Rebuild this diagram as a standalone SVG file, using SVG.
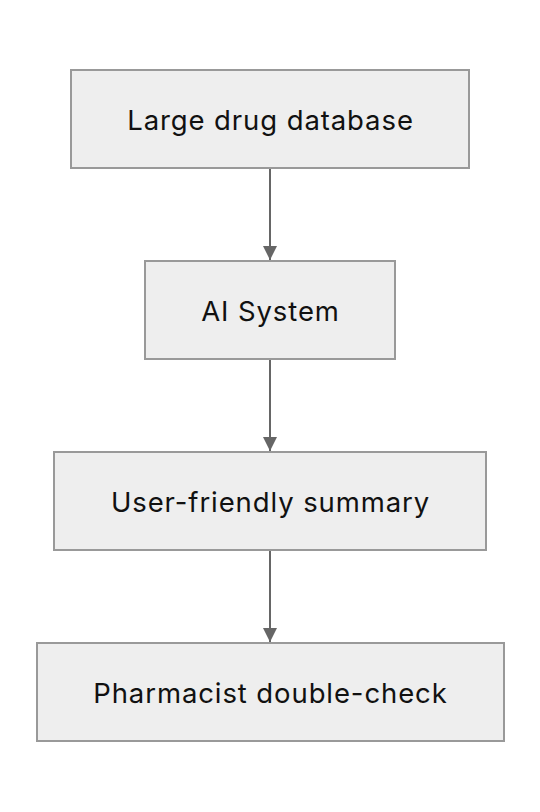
<svg xmlns="http://www.w3.org/2000/svg" width="540" height="812" viewBox="0 0 540 812">
<defs>
<style>
.box{fill:#eeeeee;stroke:#999999;stroke-width:2}
.lbl{font-family:Inter,"Liberation Sans",sans-serif;font-size:27.5px;letter-spacing:0.9px;fill:#111111;text-anchor:middle}
.edge{stroke:#666666;stroke-width:2;fill:none}
</style>
<marker id="arr" viewBox="0 0 14 14" refX="14" refY="7" markerWidth="14" markerHeight="14" markerUnits="userSpaceOnUse" orient="auto">
<path d="M0,0 L14,7 L0,14 Z" fill="#666666"/>
</marker>
</defs>
<rect width="540" height="812" fill="#ffffff"/>
<g id="connectors">
<line class="edge" x1="270" y1="169" x2="270" y2="260" marker-end="url(#arr)"/>
<line class="edge" x1="270" y1="360" x2="270" y2="451" marker-end="url(#arr)"/>
<line class="edge" x1="270" y1="551" x2="270" y2="642" marker-end="url(#arr)"/>
</g>
<g id="n1"><rect class="box" x="71" y="70" width="398" height="98"/><text class="lbl" x="270.5" y="129.5">Large drug database</text></g>
<g id="n2"><rect class="box" x="145" y="261" width="250" height="98"/><text class="lbl" x="270.5" y="320.5">AI System</text></g>
<g id="n3"><rect class="box" x="54" y="452" width="432" height="98"/><text class="lbl" x="270.5" y="511.5">User-friendly summary</text></g>
<g id="n4"><rect class="box" x="37" y="643" width="467" height="98"/><text class="lbl" x="270.5" y="702.5">Pharmacist double-check</text></g>
</svg>
